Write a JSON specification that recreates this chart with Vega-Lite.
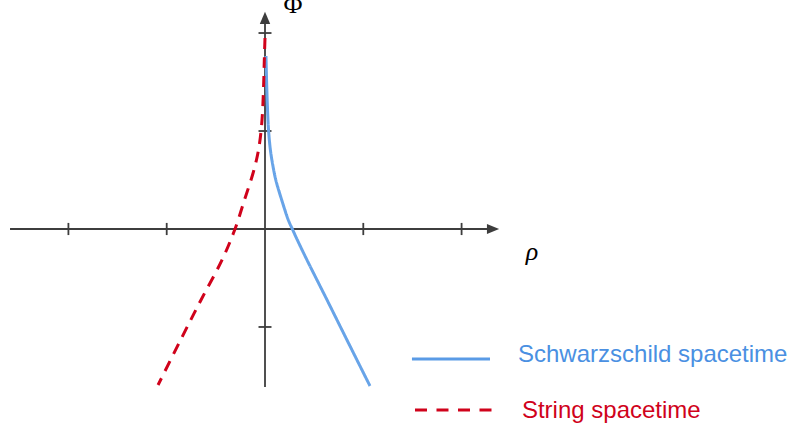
{
  "$schema": "https://vega.github.io/schema/vega-lite/v6.json",
  "width": 789,
  "height": 433,
  "padding": 0,
  "autosize": "none",
  "background": "white",
  "config": {"view": {"stroke": null}},
  "datasets": {
    "axes": [
      {"x1": -2.594, "x2": 2.29, "y1": 0, "y2": 0},
      {"x1": 0, "x2": 0, "y1": -1.612, "y2": 2.13},
      {"x1": -2, "x2": -2, "y1": -0.062, "y2": 0.062},
      {"x1": -1, "x2": -1, "y1": -0.062, "y2": 0.062},
      {"x1": 1, "x2": 1, "y1": -0.062, "y2": 0.062},
      {"x1": 2, "x2": 2, "y1": -0.062, "y2": 0.062},
      {"x1": -0.066, "x2": 0.066, "y1": 2, "y2": 2},
      {"x1": -0.066, "x2": 0.066, "y1": 1, "y2": 1},
      {"x1": -0.066, "x2": 0.066, "y1": -1, "y2": -1}
    ],
    "arrows": [
      {"x": 2.32, "y": 0, "shape": "M-1,-0.8L1,0L-1,0.8Z"},
      {"x": 0, "y": 2.155, "shape": "M-0.85,1L0,-1L0.85,1Z"}
    ],
    "curves": [
      {"series": "Schwarzschild", "u": 0.010, "v": 1.765},
      {"series": "Schwarzschild", "u": 0.016, "v": 1.52},
      {"series": "Schwarzschild", "u": 0.024, "v": 1.265},
      {"series": "Schwarzschild", "u": 0.036, "v": 1.01},
      {"series": "Schwarzschild", "u": 0.055, "v": 0.806},
      {"series": "Schwarzschild", "u": 0.079, "v": 0.653},
      {"series": "Schwarzschild", "u": 0.110, "v": 0.5},
      {"series": "Schwarzschild", "u": 0.170, "v": 0.296},
      {"series": "Schwarzschild", "u": 0.237, "v": 0.092},
      {"series": "Schwarzschild", "u": 0.278, "v": 0},
      {"series": "Schwarzschild", "u": 0.329, "v": -0.112},
      {"series": "Schwarzschild", "u": 0.427, "v": -0.316},
      {"series": "Schwarzschild", "u": 0.631, "v": -0.724},
      {"series": "Schwarzschild", "u": 0.834, "v": -1.133},
      {"series": "Schwarzschild", "u": 1.068, "v": -1.602},
      {"series": "String", "u": 0, "v": 1.949},
      {"series": "String", "u": -0.007, "v": 1.724},
      {"series": "String", "u": -0.014, "v": 1.469},
      {"series": "String", "u": -0.024, "v": 1.214},
      {"series": "String", "u": -0.039, "v": 1.01},
      {"series": "String", "u": -0.061, "v": 0.837},
      {"series": "String", "u": -0.087, "v": 0.704},
      {"series": "String", "u": -0.127, "v": 0.551},
      {"series": "String", "u": -0.209, "v": 0.296},
      {"series": "String", "u": -0.305, "v": 0},
      {"series": "String", "u": -0.437, "v": -0.316},
      {"series": "String", "u": -0.651, "v": -0.724},
      {"series": "String", "u": -0.859, "v": -1.133},
      {"series": "String", "u": -1.088, "v": -1.592}
    ],
    "legendLines": [
      {"series": "Schwarzschild", "x1": 1.495, "x2": 2.289, "y": -1.327},
      {"series": "String", "x1": 1.526, "x2": 2.309, "y": -1.847}
    ],
    "legendText": [
      {"series": "Schwarzschild", "label": "Schwarzschild spacetime", "x": 2.574, "y": -1.286},
      {"series": "String", "label": "String spacetime", "x": 2.614, "y": -1.857}
    ],
    "phi": [
      {"label": "Φ", "x": 0.285, "y": 2.209}
    ],
    "rho": [
      {"label": "ρ", "x": 2.716, "y": -0.316}
    ]
  },
  "resolve": {"scale": {"color": "independent", "strokeDash": "independent"}},
  "layer": [
    {
      "data": {"name": "axes"},
      "mark": {"type": "rule", "color": "#3d3d3d", "strokeWidth": 1.8},
      "encoding": {
        "x": {"field": "x1", "type": "quantitative", "scale": {"domain": [-2.696, 5.331], "nice": false, "zero": false}, "axis": null},
        "x2": {"field": "x2"},
        "y": {"field": "y1", "type": "quantitative", "scale": {"domain": [-2.082, 2.337], "nice": false, "zero": false}, "axis": null},
        "y2": {"field": "y2"}
      }
    },
    {
      "data": {"name": "arrows"},
      "mark": {"type": "point", "filled": true, "color": "#3d3d3d", "opacity": 1, "size": 150},
      "encoding": {
        "x": {"field": "x", "type": "quantitative"},
        "y": {"field": "y", "type": "quantitative"},
        "shape": {"field": "shape", "type": "nominal", "scale": null}
      }
    },
    {
      "data": {"name": "curves"},
      "mark": {"type": "line", "strokeWidth": 3, "interpolate": "catmull-rom"},
      "encoding": {
        "x": {"field": "u", "type": "quantitative"},
        "y": {"field": "v", "type": "quantitative"},
        "order": {"field": "v", "sort": "descending"},
        "color": {"field": "series", "type": "nominal", "scale": {"domain": ["Schwarzschild", "String"], "range": ["#68a4e8", "#d0021b"]}, "legend": null},
        "strokeDash": {"field": "series", "type": "nominal", "scale": {"domain": ["Schwarzschild", "String"], "range": [[1, 0], [11, 8]]}, "legend": null}
      }
    },
    {
      "data": {"name": "legendLines"},
      "mark": {"type": "rule", "strokeWidth": 3},
      "encoding": {
        "x": {"field": "x1", "type": "quantitative"},
        "x2": {"field": "x2"},
        "y": {"field": "y", "type": "quantitative"},
        "color": {"field": "series", "type": "nominal", "scale": {"domain": ["Schwarzschild", "String"], "range": ["#5a9be6", "#d0021b"]}, "legend": null},
        "strokeDash": {"field": "series", "type": "nominal", "scale": {"domain": ["Schwarzschild", "String"], "range": [[1, 0], [12, 9.5]]}, "legend": null}
      }
    },
    {
      "data": {"name": "legendText"},
      "mark": {"type": "text", "align": "left", "baseline": "middle", "font": "Liberation Sans", "fontSize": 24},
      "encoding": {
        "x": {"field": "x", "type": "quantitative"},
        "y": {"field": "y", "type": "quantitative"},
        "text": {"field": "label"},
        "color": {"field": "series", "type": "nominal", "scale": {"domain": ["Schwarzschild", "String"], "range": ["#4a90e2", "#d0021b"]}, "legend": null}
      }
    },
    {
      "data": {"name": "phi"},
      "mark": {"type": "text", "align": "center", "baseline": "alphabetic", "font": "Liberation Serif", "fontSize": 26, "color": "black"},
      "encoding": {
        "x": {"field": "x", "type": "quantitative"},
        "y": {"field": "y", "type": "quantitative"},
        "text": {"field": "label"}
      }
    },
    {
      "data": {"name": "rho"},
      "mark": {"type": "text", "align": "center", "baseline": "alphabetic", "font": "Liberation Serif", "fontSize": 26, "fontStyle": "italic", "color": "black"},
      "encoding": {
        "x": {"field": "x", "type": "quantitative"},
        "y": {"field": "y", "type": "quantitative"},
        "text": {"field": "label"}
      }
    }
  ]
}
